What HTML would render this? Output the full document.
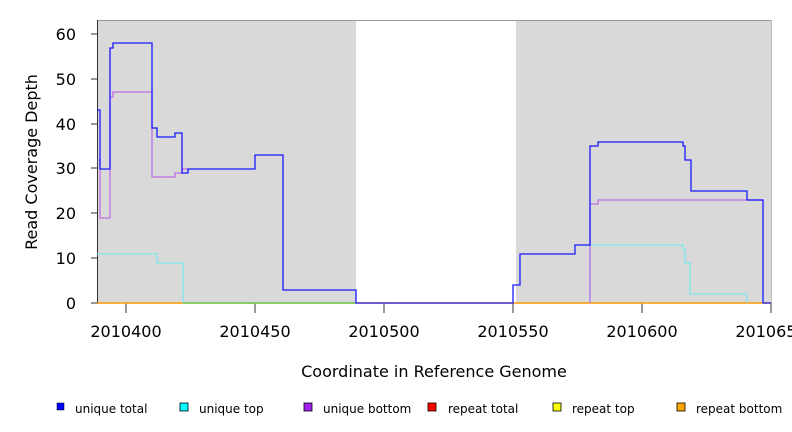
<!DOCTYPE html>
<html><head><style>body{margin:0;background:#fff}svg{display:block}</style></head><body>
<svg width="792" height="432" xmlns="http://www.w3.org/2000/svg" font-family="DejaVu Sans, Liberation Sans, sans-serif">
<rect x="97" y="20" width="674" height="283" fill="#d9d9d9"/>
<rect x="356" y="20" width="160" height="283" fill="#fff"/>
<line x1="97" y1="20.5" x2="771" y2="20.5" stroke="#999"/>
<line x1="771.5" y1="20" x2="771.5" y2="303" stroke="#bbb"/>
<line x1="97.5" y1="20" x2="97.5" y2="304" stroke="#333"/>
<g stroke="#333">
<line x1="91" x2="97" y1="303" y2="303"/><line x1="91" x2="97" y1="258" y2="258"/><line x1="91" x2="97" y1="213" y2="213"/><line x1="91" x2="97" y1="168" y2="168"/><line x1="91" x2="97" y1="124" y2="124"/><line x1="91" x2="97" y1="79" y2="79"/><line x1="91" x2="97" y1="34" y2="34"/>
<line x1="126" x2="126" y1="303" y2="313"/><line x1="255" x2="255" y1="303" y2="313"/><line x1="384" x2="384" y1="303" y2="313"/><line x1="513" x2="513" y1="303" y2="313"/><line x1="642" x2="642" y1="303" y2="313"/><line x1="771" x2="771" y1="303" y2="313"/>
</g>
<g font-size="16" text-anchor="end" fill="#000">
<text x="76" y="309">0</text><text x="76" y="264">10</text><text x="76" y="219">20</text><text x="76" y="174">30</text><text x="76" y="130">40</text><text x="76" y="85">50</text><text x="76" y="40">60</text>
</g>
<g font-size="16" text-anchor="middle">
<text x="126" y="337">2010400</text><text x="255" y="337">2010450</text><text x="384" y="337">2010500</text><text x="513" y="337">2010550</text><text x="642" y="337">2010600</text><text x="771" y="337">2010650</text>
</g>
<text x="434" y="377" font-size="16" text-anchor="middle">Coordinate in Reference Genome</text>
<text transform="translate(37,162) rotate(-90)" font-size="16" text-anchor="middle">Read Coverage Depth</text>
<line x1="97" y1="303" x2="771" y2="303" stroke="#f90" stroke-width="1.5"/>
<line x1="183" y1="303" x2="356" y2="303" stroke="#6c6" stroke-width="1.5"/>
<g fill="none" stroke-width="1.3">
<polyline stroke="#7ee8ee" points="97,254 157,254 157,263 183,263 183,303"/>
<polyline stroke="#7ee8ee" points="590,303 590,245 683,245 683,249 685,249 685,263 690,263 690,294 747,294 747,303"/>
<polyline stroke="#bf6fe6" points="97,160 100,160 100,218 110,218 110,97 113,97 113,92 152,92 152,177 175,177 175,173 182,173 182,169 188,169"/>
<polyline stroke="#bf6fe6" points="590,303 590,204 598,204 598,200 763,200"/>
<polyline stroke="#1a1aff" points="97,110 100,110 100,169 110,169 110,48 113,48 113,43 152,43 152,128 157,128 157,137 175,137 175,133 182,133 182,173 188,173 188,169 255,169 255,155 283,155 283,290 356,290 356,303 513,303 513,285 520,285 520,254 575,254 575,245 590,245 590,146 598,146 598,142 683,142 683,146 685,146 685,160 691,160 691,191 747,191 747,200 763,200 763,303 771,303"/>
</g>
<g font-size="12">
<rect x="57" y="403" width="7" height="7" fill="#00f" stroke="#000" stroke-width=".5"/><text x="75" y="413">unique total</text>
<rect x="180" y="403" width="8" height="8" fill="#0ff" stroke="#000" stroke-width=".8"/><text x="199" y="413">unique top</text>
<rect x="304" y="403" width="8" height="8" fill="#a020f0" stroke="#000" stroke-width=".8"/><text x="323" y="413">unique bottom</text>
<rect x="428" y="403" width="8" height="8" fill="#f00" stroke="#000" stroke-width=".8"/><text x="448" y="413">repeat total</text>
<rect x="553" y="403" width="8" height="8" fill="#ff0" stroke="#000" stroke-width=".8"/><text x="572" y="413">repeat top</text>
<rect x="677" y="403" width="8" height="8" fill="#ffa500" stroke="#000" stroke-width=".8"/><text x="696" y="413">repeat bottom</text>
</g>
</svg>
</body></html>
